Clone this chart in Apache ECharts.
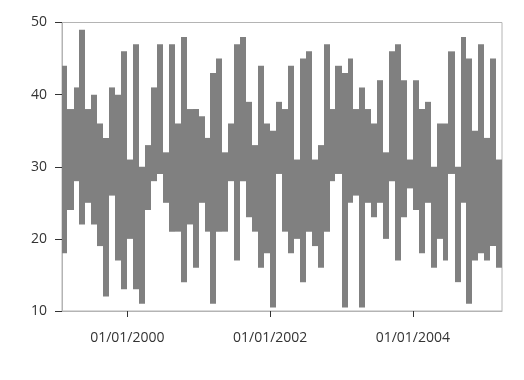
<!DOCTYPE html>
<html>
<head>
<meta charset="utf-8">
<script src="https://cdn.jsdelivr.net/npm/echarts@6/dist/echarts.min.js"></script>
<style>
html,body{margin:0;padding:0;background:#fff;}
#chart{width:524px;height:380px;}
</style>
</head>
<body>
<div id="chart"></div>
<script>
// Monthly categories (start of each bar)
const months = [
  '1999-02','1999-03','1999-04','1999-05','1999-06','1999-07','1999-08','1999-09','1999-10','1999-11','1999-12',
  '2000-01','2000-02','2000-03','2000-04','2000-05','2000-06','2000-07','2000-08','2000-09','2000-10','2000-11','2000-12',
  '2001-01','2001-02','2001-03','2001-04','2001-05','2001-06','2001-07','2001-08','2001-09','2001-10','2001-11','2001-12',
  '2002-01','2002-02','2002-03','2002-04','2002-05','2002-06','2002-07','2002-08','2002-09','2002-10','2002-11','2002-12',
  '2003-01','2003-02','2003-03','2003-04','2003-05','2003-06','2003-07','2003-08','2003-09','2003-10','2003-11','2003-12',
  '2004-01','2004-02','2004-03','2004-04','2004-05','2004-06','2004-07','2004-08','2004-09','2004-10','2004-11','2004-12',
  '2005-01','2005-02','2005-03'
];
const endMonth = '2005-04';

const highs = [
  44,38,41,49,38,40,36,34,41,40,46,
  31,47,30,33,41,47,32,47,36,48,
  38,38,37,34,43,45,32,36,47,48,
  39,33,44,36,35,39,38,44,31,45,
  46,31,33,47,38,44,43,45,38,41,
  38,36,42,32,46,47,42,31,42,38,
  39,30,36,36,46,30,48,45,35,47,
  34,45,31
];
const lows = [
  18,24,28,22,25,22,19,12,26,17,13,
  20,13,11,24,28,29,25,21,21,14,
  22,16,25,21,11,21,21,28,17,28,
  23,21,16,18,10.5,29,21,18,20,14,
  21,19,16,21,28,29,10.5,25,26,10.5,
  25,23,25,20,28,17,23,27,24,18,
  25,16,20,17,29,14,25,11,17,18,
  17,19,16
];

const tickDates = ['2000-01-01','2002-01-01','2004-01-01'];
const tickLabels = ['01/01/2000','01/01/2002','01/01/2004'];

function toTs(s){
  const p = s.split('-').map(Number);
  return Date.UTC(p[0], p[1]-1, p[2] || 1);
}

const data = months.map(function(m, i){
  const next = i + 1 < months.length ? months[i+1] : endMonth;
  return [toTs(m), lows[i], highs[i], toTs(next)];
});
const tickTs = tickDates.map(toTs);

const chart = echarts.init(document.getElementById('chart'), null, {renderer:'canvas'});
const font = 'Open Sans';
chart.setOption({
  animation: false,
  grid: {
    left: 62, right: 22, top: 22.5, bottom: 69,
    show: true, borderColor: '#b4b4b4', borderWidth: 1, backgroundColor: 'transparent'
  },
  xAxis: {
    type: 'value',
    min: toTs(months[0]),
    max: toTs(endMonth),
    axisLine: {show: true, lineStyle: {color: '#b4b4b4', width: 1}},
    axisTick: {show: true, length: 6, lineStyle: {color: '#333'}, customValues: tickTs},
    axisLabel: {
      customValues: tickTs,
      margin: 20,
      fontFamily: font, fontSize: 14, color: '#333',
      formatter: function(v){
        const idx = tickTs.indexOf(v);
        return idx >= 0 ? tickLabels[idx] : '';
      }
    },
    splitLine: {show: false}
  },
  yAxis: {
    type: 'value',
    min: 10, max: 50, interval: 10,
    axisLine: {show: true, lineStyle: {color: '#b4b4b4', width: 1}},
    axisTick: {show: true, length: 7, lineStyle: {color: '#333'}},
    axisLabel: {margin: 15, fontFamily: font, fontSize: 14, color: '#333'},
    splitLine: {show: false}
  },
  series: [{
    type: 'custom',
    data: data,
    encode: {x: [0, 3], y: [1, 2]},
    renderItem: function(params, api){
      const pTop = api.coord([api.value(0), api.value(2)]);
      const pBot = api.coord([api.value(3), api.value(1)]);
      const x0 = Math.round(pTop[0]);
      const x1 = Math.round(pBot[0]);
      return {
        type: 'rect',
        shape: {x: x0, y: pTop[1], width: x1 - x0, height: pBot[1] - pTop[1]},
        style: {fill: '#808080'}
      };
    }
  }]
});
</script>
</body>
</html>
